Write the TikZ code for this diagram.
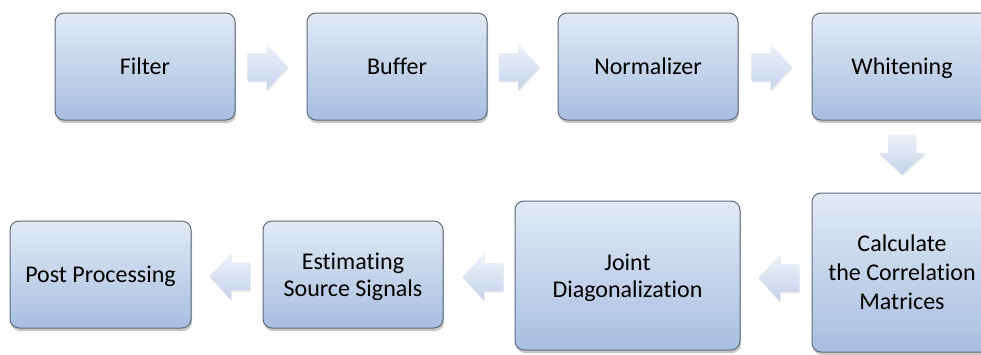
\documentclass[tikz,border=0pt]{standalone}
\usepackage{fontspec}
\setmainfont{Carlito}[Ligatures=NoCommon]
\usetikzlibrary{shapes.arrows,shadows,calc}
\definecolor{boxtop}{HTML}{E1EAF6}
\definecolor{boxbot}{HTML}{A8BEE1}
\definecolor{boxline}{HTML}{5F6B78}
\definecolor{arrtop}{HTML}{EEF3FA}
\definecolor{arrbot}{HTML}{C4D2EA}
\begin{document}
\begin{tikzpicture}[x=0.5pt,y=-0.5pt,
  stepbox/.style={draw=boxline, line width=0.5pt, rounded corners=4.5pt,
    top color=boxtop, bottom color=boxbot, align=center, inner sep=0pt,
    font=\fontsize{12}{13.5}\selectfont, text=black, text depth=0pt,
    minimum width=90pt, minimum height=53.5pt,
    drop shadow={shadow xshift=0.5pt, shadow yshift=-1.5pt, opacity=0.22, fill=black}},
  flow/.style={single arrow, draw=none, top color=arrtop, bottom color=arrbot,
    minimum height=19.5pt, minimum width=23pt, inner sep=6.75pt,
    single arrow head extend=4.75pt, single arrow tip angle=95, anchor=tip,
    drop shadow={shadow xshift=0.4pt, shadow yshift=-0.8pt, opacity=0.08, fill=black}}
]
\useasboundingbox (0,0) rectangle (981,354);
\clip (0,0) rectangle (981,354);
\fill[white] (0,0) rectangle (981,354);

\node[stepbox] (filter) at (145,66.5) {Filter};
\node[stepbox] (buffer) at (397,66.5) {Buffer};
\node[stepbox] (norm) at (648,66.5) {Normalizer};
\node[stepbox] (white) at (902,66.5) {Whitening};
\node[stepbox, minimum height=79.5pt, font=\fontsize{12}{14.5}\selectfont] (calc) at (902,272.5) {Calculate\\the Correlation\\Matrices};
\node[stepbox, minimum width=112.5pt, minimum height=74.5pt] (joint) at (627.5,275.5) {Joint\\Diagonalization};
\node[stepbox] (est) at (353,274.5) {Estimating\\Source Signals};
\node[stepbox, minimum width=90.5pt] (post) at (100.5,274.5) {Post Processing};

\node[flow] (a1) at ($(filter.east)!0.5!(buffer.west)+(17.5,0.5)$) {};
\node[flow] (a2) at ($(buffer.east)!0.5!(norm.west)+(17.5,0.5)$) {};
\node[flow] (a3) at ($(norm.east)!0.5!(white.west)+(17.5,0.5)$) {};
\node[flow, shape border rotate=270] (a4) at ($(white.south)!0.5!(calc.north)+(0,18.5)$) {};
\node[flow, shape border rotate=180] (a5) at ($(calc.west)!0.5!(joint.east)+(-18,4)$) {};
\node[flow, shape border rotate=180] (a6) at ($(joint.west)!0.5!(est.east)+(-17,2)$) {};
\node[flow, shape border rotate=180] (a7) at ($(est.west)!0.5!(post.east)+(-18,2)$) {};
\end{tikzpicture}
\end{document}
